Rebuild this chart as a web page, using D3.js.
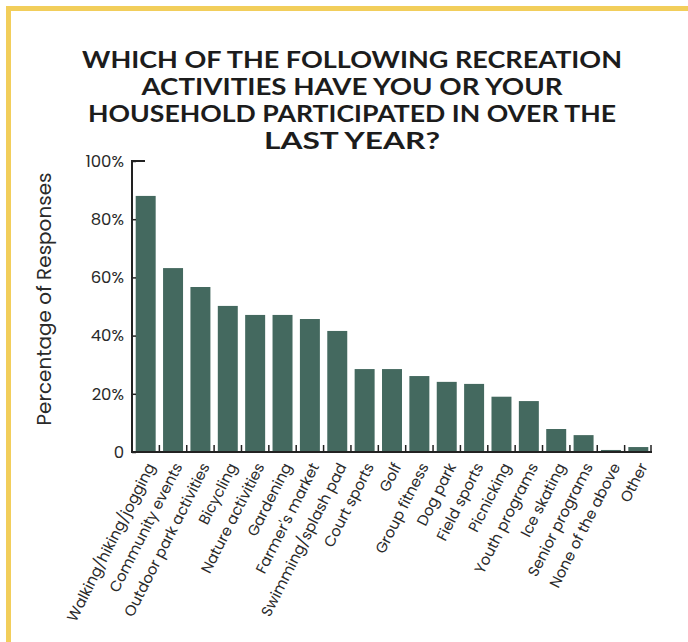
<!DOCTYPE html>
<html>
<head>
<meta charset="utf-8">
<script src="https://cdn.jsdelivr.net/npm/d3@7"></script>
<style>
  html, body { margin: 0; padding: 0; background: #ffffff; }
  svg { display: block; }
</style>
</head>
<body>
<script>
const categories = [
  "Walking/hiking/jogging", "Community events", "Outdoor park activities", "Bicycling",
  "Nature activities", "Gardening", "Farmer's market", "Swimming/splash pad",
  "Court sports", "Golf", "Group fitness", "Dog park", "Field sports", "Picnicking",
  "Youth programs", "Ice skating", "Senior programs", "None of the above", "Other"
];
const values = [88, 63.2, 56.7, 50.2, 47.1, 47.1, 45.7, 41.6, 28.5, 28.5, 26.1, 24.1, 23.4, 19, 17.5, 7.9, 5.8, 0.7, 1.7];
const yTicks = [0, 20, 40, 60, 80, 100];
const titleLines = [
  "WHICH OF THE FOLLOWING RECREATION",
  "ACTIVITIES HAVE YOU OR YOUR",
  "HOUSEHOLD PARTICIPATED IN OVER THE",
  "LAST YEAR?"
];
const yTitle = "Percentage of Responses";

const W = 688, H = 642;
const svg = d3.select("body").append("svg").attr("width", W).attr("height", H);

// frame border (yellow)
svg.append("rect").attr("x", 6).attr("y", 6).attr("width", W - 6).attr("height", 5).attr("fill", "#F2CE5B");
svg.append("rect").attr("x", 6).attr("y", 6).attr("width", 5).attr("height", H - 6).attr("fill", "#F2CE5B");

// title
const titleLens = [540, 421, 528, 176];
const titleBase = [68, 95, 122, 149];
titleLines.forEach((t, i) => {
  svg.append("text")
    .attr("x", 352).attr("y", titleBase[i])
    .attr("text-anchor", "middle")
    .attr("font-family", "Lato, 'DejaVu Sans', sans-serif")
    .attr("font-weight", 700)
    .attr("font-size", 22.5)
    .attr("fill", "#1c1c1c")
    .attr("textLength", titleLens[i])
    .attr("lengthAdjust", "spacingAndGlyphs")
    .text(t);
});

const mLeft = 132, mRight = 652, mTop = 161, mBottom = 452;
const x = d3.scaleBand().domain(categories).range([mLeft, mRight]).paddingInner(0.27).paddingOuter(0.135);
const y = d3.scaleLinear().domain([0, 100]).range([mBottom, mTop]);

const font = "Poppins, 'Open Sans', Lato, sans-serif";

// bars
svg.append("g").selectAll("rect").data(categories).join("rect")
  .attr("x", d => x(d))
  .attr("y", (d, i) => y(values[i]))
  .attr("width", x.bandwidth())
  .attr("height", (d, i) => y(0) - y(values[i]))
  .attr("fill", "#44695F");

// y axis
const yAxis = d3.axisLeft(y).tickValues(yTicks)
  .tickFormat(d => d === 0 ? "0" : d + "%")
  .tickSize(-4).tickSizeOuter(0).tickPadding(8);
const gy = svg.append("g").attr("transform", `translate(${mLeft},0)`).call(yAxis);
gy.select(".domain").remove();
gy.selectAll(".tick line").attr("stroke", "#222").attr("stroke-width", 1.5);
gy.selectAll(".tick text").attr("font-family", font).attr("font-size", 16.5).attr("fill", "#2a2a2a");
svg.append("path")
  .attr("d", `M${mLeft + 13},${mTop} H${mLeft} V${mBottom} H${mLeft + 13}`)
  .attr("fill", "none").attr("stroke", "#222").attr("stroke-width", 2);

// x axis baseline + ticks at band boundaries
svg.append("line").attr("x1", mLeft).attr("x2", mRight).attr("y1", mBottom).attr("y2", mBottom)
  .attr("stroke", "#222").attr("stroke-width", 2);
const step = x.step();
const boundaries = categories.map(d => Math.min(x(d) + x.bandwidth() + (step - x.bandwidth()) / 2, mRight - 1));
svg.append("g").selectAll("line").data(boundaries).join("line")
  .attr("x1", d => d).attr("x2", d => d)
  .attr("y1", mBottom).attr("y2", mBottom - 7)
  .attr("stroke", "#222").attr("stroke-width", 1.5);

// x labels
svg.append("g").selectAll("text").data(categories).join("text")
  .attr("transform", d => `translate(${x(d) + x.bandwidth() / 2 + 5},${mBottom + 12}) rotate(-63)`)
  .attr("text-anchor", "end")
  .attr("dy", "0.35em")
  .attr("font-family", font)
  .attr("font-size", 15)
  .attr("fill", "#2a2a2a")
  .text(d => d);

// y title
svg.append("text")
  .attr("transform", `translate(51,299) rotate(-90)`)
  .attr("text-anchor", "middle")
  .attr("font-family", font)
  .attr("font-size", 20)
  .attr("fill", "#2a2a2a")
  .text(yTitle);
</script>
</body>
</html>
